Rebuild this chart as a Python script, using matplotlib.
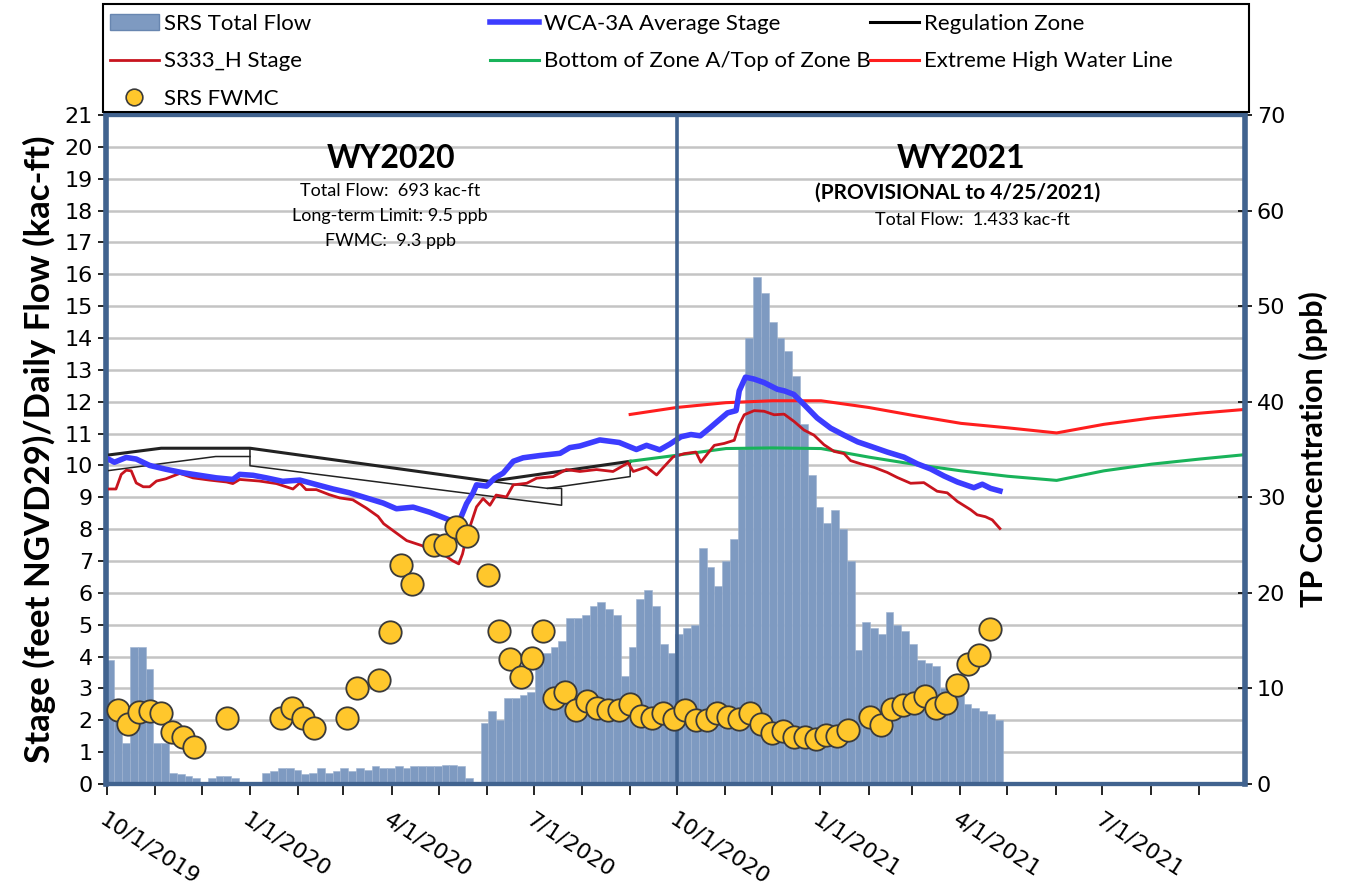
import numpy as np
import matplotlib
matplotlib.use('Agg')
import matplotlib.pyplot as plt
import matplotlib.dates as mdates
from matplotlib.patches import Rectangle, Patch
from matplotlib.lines import Line2D

plt.rcParams['font.family'] = ['Lato', 'DejaVu Sans']

# all x values are days since 10/1/2019
start = np.datetime64('2019-10-01')

# SRS total flow (kac-ft/day), one value per 5-day period from 10/1/2019
flow_step = 5
flow = [3.9, 2.4, 1.3, 4.3, 4.3, 3.6, 1.3, 1.3, 0.35, 0.3,
        0.25, 0.2, 0, 0.2, 0.25, 0.25, 0.2, 0, 0, 0,
        0.35, 0.4, 0.5, 0.5, 0.45, 0.3, 0.35, 0.5, 0.35, 0.4,
        0.5, 0.4, 0.5, 0.45, 0.55, 0.5, 0.5, 0.55, 0.5, 0.55,
        0.55, 0.55, 0.55, 0.6, 0.6, 0.55, 0.2, 0, 1.9, 2.3,
        2.0, 2.7, 2.7, 2.8, 2.9, 3.9, 4.1, 4.3, 4.5, 5.2,
        5.2, 5.3, 5.6, 5.7, 5.5, 5.3, 3.4, 4.3, 5.8, 6.1,
        5.6, 4.4, 4.1, 4.7, 4.9, 5.0, 7.4, 6.8, 6.2, 7.0,
        7.7, 10.5, 14.0, 15.9, 15.4, 14.5, 14.0, 13.6, 12.8, 11.3,
        9.7, 8.7, 8.2, 8.6, 8.0, 7.0, 4.2, 5.1, 4.9, 4.7,
        5.4, 5.0, 4.8, 4.4, 3.9, 3.8, 3.7, 3.0, 2.9, 2.8,
        2.5, 2.4, 2.3, 2.2, 2.0]

# WCA-3A average stage
wca_day = [1, 5, 12.6, 19, 27.6, 38, 49, 59.7, 70.4, 81, 85.4, 94, 102.5, 113, 124,
           134.6, 145.3, 156, 166.7, 177.4, 186, 196.7, 207.4, 220, 226.7, 231, 235,
           237.4, 243.8, 249, 254.5, 261, 267.3, 278, 291, 297.3, 303.7, 316.5, 329,
           340, 346.5, 355, 361.5, 368.6, 375, 381, 387, 392, 398.5, 404, 406, 410,
           415.6, 422, 430.5, 435, 441, 447.6, 456, 464.7, 473.3, 482, 490.4, 501,
           511.7, 520.3, 528.8, 537.4, 546, 556.6, 562, 567.3, 573.3]
wca_val = [10.2, 10.1, 10.25, 10.2, 10.0, 9.88, 9.77, 9.69, 9.61, 9.56, 9.72, 9.69, 9.61,
           9.5, 9.54, 9.4, 9.26, 9.14, 8.98, 8.82, 8.64, 8.69, 8.53, 8.29, 8.29, 8.8, 9.12,
           9.39, 9.35, 9.6, 9.76, 10.13, 10.24, 10.31, 10.38, 10.56, 10.61, 10.8, 10.72,
           10.5, 10.63, 10.49, 10.67, 10.9, 10.97, 10.93, 11.17, 11.38, 11.65, 11.72,
           12.34, 12.77, 12.71, 12.6, 12.39, 12.34, 12.23, 11.91, 11.49, 11.17, 10.95,
           10.74, 10.6, 10.42, 10.26, 10.05, 9.89, 9.67, 9.48, 9.3, 9.41, 9.28, 9.2]

# S333_H stage
s333_day = [0, 6, 9.4, 12.6, 15.8, 19, 23.5, 27.6, 32, 38, 47, 55.4, 66, 77, 81, 85.4, 98,
            109, 119.6, 124, 128, 134.6, 143, 149.6, 158, 166.7, 174.2, 177.8, 192.6,
            202.5, 209.9, 217.3, 222, 226, 228.4, 230.9, 233, 237.4, 241.6, 246, 250,
            256.6, 261, 269.6, 276, 286.6, 295, 303.7, 314.4, 325, 334.7, 338, 346.5,
            353, 357, 363.6, 370.7, 378.2, 381.4, 385.7, 390, 396.3, 402.8, 406, 409.2,
            415.6, 422, 428.4, 434.8, 441.2, 447.6, 454, 460.4, 466.9, 473.3, 477.5, 484,
            492.5, 501, 507.5, 516, 524.5, 533, 539.5, 546, 554.5, 558.7, 564, 568.4, 573.3]
s333_val = [9.26, 9.26, 9.72, 9.85, 9.83, 9.45, 9.33, 9.33, 9.51, 9.58, 9.75, 9.61, 9.54,
            9.48, 9.43, 9.56, 9.51, 9.43, 9.26, 9.45, 9.24, 9.24, 9.08, 8.98, 8.92, 8.66,
            8.4, 8.17, 7.64, 7.48, 7.27, 7.17, 7.01, 6.91, 7.22, 7.74, 8.05, 8.7, 8.96,
            8.75, 9.07, 9.01, 9.39, 9.44, 9.6, 9.65, 9.87, 9.81, 9.87, 9.81, 10.08, 9.81,
            9.95, 9.7, 9.92, 10.27, 10.37, 10.42, 10.1, 10.37, 10.63, 10.69, 10.79, 11.27,
            11.59, 11.72, 11.7, 11.59, 11.61, 11.38, 11.11, 10.95, 10.65, 10.44, 10.37,
            10.15, 10.05, 9.94, 9.78, 9.62, 9.44, 9.46, 9.19, 9.14, 8.87, 8.61, 8.45,
            8.39, 8.29, 8.02]

# regulation schedule lines
reg_top_day = [0, 35, 92, 246, 336]
reg_top_val = [10.32, 10.54, 10.54, 9.5, 10.13]
reg_low1_day = [0, 70, 92]
reg_low1_val = [9.83, 10.28, 10.28]
reg_low2_day = [92, 92, 292, 292, 283, 246]
reg_low2_val = [10.54, 9.99, 8.75, 9.28, 9.28, 9.5]
reg_low3_day = [283, 336, 336]
reg_low3_val = [9.28, 9.65, 10.13]

zone_ab_day = [336, 366, 397.5, 427, 458.5, 489.3, 517.6, 548.4, 578.4, 609.7, 640,
               670.7, 701.5, 731]
zone_ab_val = [10.13, 10.32, 10.53, 10.55, 10.53, 10.26, 10.04, 9.83, 9.66, 9.53, 9.83,
               10.04, 10.2, 10.34]
ehw_day = [336, 366, 397.5, 427.5, 458.5, 489, 517.6, 548.4, 578.4, 609.7, 640, 670.7,
           701.5, 731]
ehw_val = [11.6, 11.82, 11.97, 12.03, 12.03, 11.82, 11.57, 11.32, 11.18, 11.02, 11.29,
           11.49, 11.64, 11.76]

# SRS flow-weighted mean concentration (ppb), weekly samples
fwmc_day = [7, 14, 21, 28, 35, 42, 49, 56, 77, 112, 119, 126, 133, 154, 161, 175, 182,
            189, 196, 210, 217, 224, 231, 245, 252, 259, 266, 273, 280, 287, 294, 301,
            308, 315, 322, 329, 336, 343, 350, 357, 364,
            371, 378, 385, 392, 399, 406, 413, 420, 427, 434, 441, 448, 455, 462, 469,
            476, 490, 497, 504, 511, 518, 525, 532, 539, 546, 553, 560, 567]
fwmc_val = [7.7, 6.3, 7.5, 7.6, 7.4, 5.4, 4.9, 3.9, 6.9, 6.9, 8.0, 6.9, 5.9, 6.9, 10.0,
            10.9, 15.9, 22.9, 20.9, 25.0, 25.0, 26.9, 25.9, 21.9, 16.0, 13.1, 11.2, 13.2,
            16.0, 9.0, 9.6, 7.7, 8.7, 8.0, 7.7, 7.7, 8.4, 7.1, 6.9, 7.4, 6.8,
            7.7, 6.7, 6.7, 7.4, 7.0, 6.8, 7.4, 6.3, 5.3, 5.5, 4.9, 4.9, 4.7, 5.1, 5.0,
            5.6, 7.0, 6.2, 7.8, 8.3, 8.5, 9.2, 7.9, 8.5, 10.4, 12.6, 13.5, 16.2]

wy_split_day = 366


def to_num(days):
    # days since start -> matplotlib date numbers
    return mdates.date2num(start) + np.asarray(days, dtype=float)


W, H = 1346, 888
def fx(x):
    return x / W
def fy(y):
    return 1 - y / H

frame_col = '#41638F'
bar_col = '#7E9AC1'
blue_col = '#3C3CFF'
s333_col = '#C8141E'
ehw_col = '#FF1E1E'
green_col = '#19B35A'
dot_col = '#FFC72C'

fig = plt.figure(figsize=(W / 100, H / 100), dpi=100)
ax = fig.add_axes([fx(106), fy(784), fx(1245) - fx(106), fy(115) - fy(784)])
ax.xaxis_date()

# bars
flow_x = to_num(np.arange(len(flow)) * flow_step)
ax.bar(flow_x, flow, width=flow_step, align='edge', color=bar_col,
       edgecolor='#9DB2D0', linewidth=0.4, zorder=2)

ax.plot(to_num(reg_top_day), reg_top_val, color='#222222', lw=2.2, zorder=3)
for d, v in [(reg_low1_day, reg_low1_val), (reg_low2_day, reg_low2_val),
             (reg_low3_day, reg_low3_val)]:
    ax.plot(to_num(d), v, color='#222222', lw=1.1, zorder=3)
ax.plot(to_num(zone_ab_day), zone_ab_val, color=green_col, lw=2.2, zorder=3)
ax.plot(to_num(ehw_day), ehw_val, color=ehw_col, lw=2.2, zorder=3)
ax.plot(to_num(s333_day), s333_val, color=s333_col, lw=2.0, zorder=4)
ax.plot(to_num(wca_day), wca_val, color=blue_col, lw=4, zorder=5)

ax.axvline(to_num(wy_split_day), color=frame_col, lw=2.6, zorder=6)

ax.set_xlim(to_num(-0.4), to_num(730.6))
ax.set_ylim(0, 21)
ax.set_yticks(range(0, 22))
ax.grid(axis='y', color='#C4C4C4', lw=1.8, zorder=0)
ax.set_axisbelow(True)

ax.xaxis.set_major_locator(mdates.MonthLocator(bymonth=[1, 4, 7, 10]))
ax.xaxis.set_minor_locator(mdates.MonthLocator())
def date_label(x, pos):
    d = mdates.num2date(x)
    return f'{d.month}/{d.day}/{d.year}'
ax.xaxis.set_major_formatter(plt.FuncFormatter(date_label))
ax.tick_params(axis='x', which='both', direction='out', length=8, width=1.2,
               labelsize=16, pad=10)
for lab in ax.get_xticklabels():
    lab.set_rotation(-33)
    lab.set_ha('left')
    lab.set_va('top')
    lab.set_rotation_mode('anchor')
    lab.set_family('DejaVu Sans')
ax.tick_params(axis='y', direction='out', length=6, width=1.2, labelsize=16)
for lab in ax.get_yticklabels():
    lab.set_family('DejaVu Sans')

for s in ax.spines.values():
    s.set_color(frame_col)
    s.set_linewidth(3)
ax.spines['left'].set_linewidth(4)

ax.set_ylabel('Stage (feet NGVD29)/Daily Flow (kac-ft)', fontsize=25,
              fontweight='bold', labelpad=6)

ax2 = ax.twinx()
ax2.set_ylim(0, 70)
ax2.set_yticks(range(0, 71, 10))
ax2.scatter(to_num(fwmc_day), fwmc_val, s=260, color=dot_col,
            edgecolor='#3A3A3A', linewidth=1.3, zorder=7, clip_on=False)
ax2.tick_params(axis='y', direction='inout', length=10, width=1.2, labelsize=16)
for lab in ax2.get_yticklabels():
    lab.set_family('DejaVu Sans')
for s in ax2.spines.values():
    s.set_color(frame_col)
    s.set_linewidth(3)
ax2.spines['right'].set_linewidth(4)
ax2.set_ylabel('TP Concentration (ppb)', fontsize=22, fontweight='bold',
               labelpad=10)

# water-year annotations
fig.text(fx(391), fy(158), 'WY2020', fontsize=23, fontweight='bold',
         ha='center', va='center')
fig.text(fx(390), fy(191), 'Total Flow:  693 kac-ft', fontsize=13,
         ha='center', va='center')
fig.text(fx(390), fy(216), 'Long-term Limit: 9.5 ppb', fontsize=13,
         ha='center', va='center')
fig.text(fx(390), fy(241), 'FWMC:  9.3 ppb', fontsize=13, ha='center', va='center')
fig.text(fx(961), fy(158), 'WY2021', fontsize=23, fontweight='bold',
         ha='center', va='center')
fig.text(fx(958), fy(193), '(PROVISIONAL to 4/25/2021)', fontsize=15,
         fontweight='bold', ha='center', va='center')
fig.text(fx(972), fy(220), 'Total Flow:  1.433 kac-ft', fontsize=13,
         ha='center', va='center')

# legend
fig.patches.append(Rectangle((fx(103), fy(112)), fx(1249) - fx(103),
                             fy(4) - fy(112), transform=fig.transFigure,
                             fill=False, edgecolor='black', lw=1.5))
h_flow = Patch(facecolor=bar_col, edgecolor='#6886B0')
h_wca = Line2D([], [], color=blue_col, lw=4)
h_reg = Line2D([], [], color='black', lw=2.2)
h_s333 = Line2D([], [], color=s333_col, lw=2)
h_ab = Line2D([], [], color=green_col, lw=2.2)
h_ehw = Line2D([], [], color=ehw_col, lw=2.2)
h_dot = Line2D([], [], ls='none', marker='o', ms=12, markerfacecolor=dot_col,
               markeredgecolor='#3A3A3A', markeredgewidth=1.2)
leg_kw = dict(loc='upper left', frameon=False, fontsize=16, borderpad=0,
              borderaxespad=0, handlelength=2.2, handletextpad=0.25,
              labelspacing=0.78)
fig.legend([h_flow, h_s333, h_dot], ['SRS Total Flow', 'S333_H Stage', 'SRS FWMC'],
           bbox_to_anchor=(fx(110), fy(14)), **leg_kw)
fig.legend([h_wca, h_ab], ['WCA-3A Average Stage', 'Bottom of Zone A/Top of Zone B'],
           bbox_to_anchor=(fx(490), fy(14)), **leg_kw)
fig.legend([h_reg, h_ehw], ['Regulation Zone', 'Extreme High Water Line'],
           bbox_to_anchor=(fx(870), fy(14)), **leg_kw)

fig.savefig('out.png', dpi=100)
